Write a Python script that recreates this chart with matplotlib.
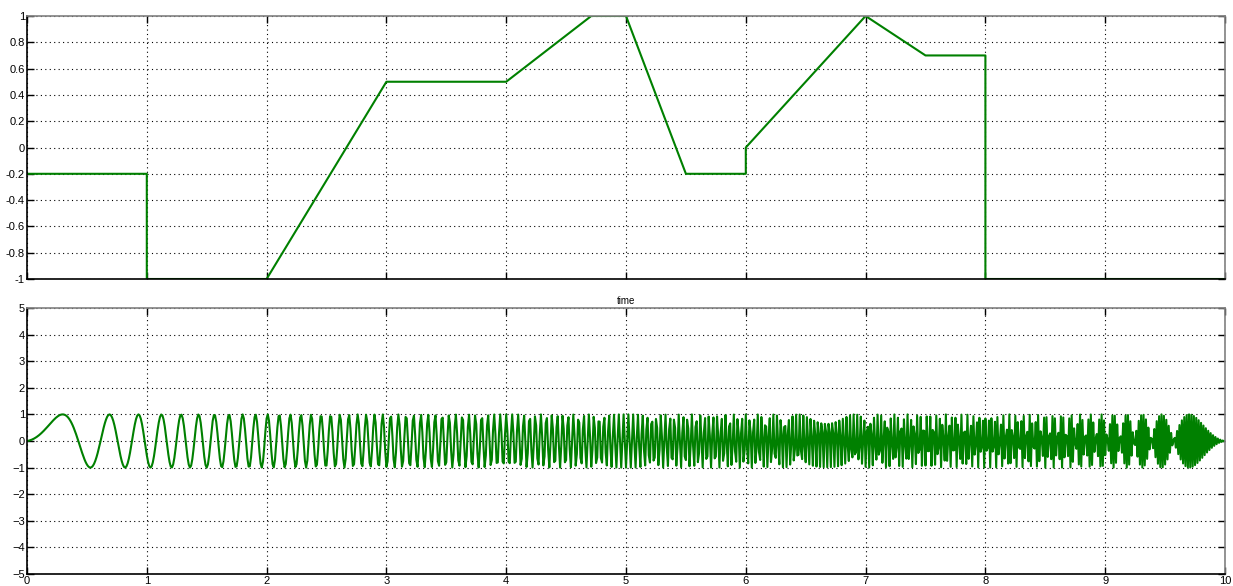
import numpy as np
import matplotlib
matplotlib.use("Agg")
import matplotlib.pyplot as plt

# top signal: breakpoints of the piecewise linear command
cmd_t = [0, 1, 1, 2, 3, 4, 4.71, 5, 5.5, 6, 6, 7, 7.5, 8, 8, 10]
cmd_y = [-0.2, -0.2, -1, -1, 0.5, 0.5, 1, 1, -0.2, -0.2, 0, 1, 0.7, 0.7, -1, -1]

# bottom signal: chirp sampled by the scope
chirp_f0 = 0.1       # Hz
chirp_rate = 2.49    # phase = 2*pi*(f0 + rate*t)*t
sample_dt = 0.01     # s
t_end = 10

top_yticks = [-1, -0.8, -0.6, -0.4, -0.2, 0, 0.2, 0.4, 0.6, 0.8, 1]
top_ylabels = ['-1', '-0.8', '-0.6', '-0.4', '-0.2', '0', '0.2', '0.4', '0.6', '0.8', '1']
bot_yticks = [-5, -4, -3, -2, -1, 0, 1, 2, 3, 4, 5]
xticks = [0, 1, 2, 3, 4, 5, 6, 7, 8, 9, 10]

t = np.arange(0, t_end + sample_dt / 2, sample_dt)
y = np.sin(2 * np.pi * (chirp_f0 + chirp_rate * t) * t)

W, H = 1233, 586
fig = plt.figure(figsize=(W / 100, H / 100), dpi=100)
plt.rcParams['font.family'] = ['Liberation Sans', 'DejaVu Sans']

green = '#008000'

def style(ax):
    ax.grid(True, color='black', linestyle=(0, (1, 3)), linewidth=0.8)
    ax.tick_params(direction='in', length=5, width=1, top=True, right=True,
                   labelsize=8, pad=1.5, colors='black')
    ax.spines['top'].set_color('#808080')
    ax.spines['right'].set_color('#808080')
    for s in ax.spines.values():
        s.set_linewidth(1.2)
    ax.set_xlim(0, 10)
    ax.set_xticks(xticks)

right = 1225
ax1 = fig.add_axes([27 / W, 1 - 279 / H, (right - 27) / W, (279 - 16) / H])
ax1.plot(cmd_t, cmd_y, color=green, linewidth=1.5)
style(ax1)
ax1.set_ylim(-1, 1)
ax1.set_yticks(top_yticks)
ax1.set_yticklabels(top_ylabels)
ax1.set_xticklabels([])

ax2 = fig.add_axes([27 / W, 1 - 574 / H, (right - 27) / W, (574 - 308) / H])
ax2.plot(t, y, color=green, linewidth=1.5)
style(ax2)
ax2.set_ylim(-5, 5)
ax2.set_yticks(bot_yticks)
ax2.set_title('time', fontsize=7, pad=3)

fig.savefig('out.png', dpi=100)
